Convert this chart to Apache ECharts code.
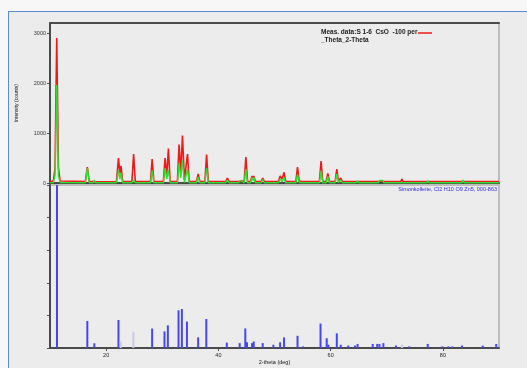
<!DOCTYPE html>
<html><head><meta charset="utf-8">
<script src="https://cdn.jsdelivr.net/npm/echarts@6/dist/echarts.min.js"></script>
<style>
html,body{margin:0;padding:0;background:#f7f7f7;overflow:hidden;}
#frame{position:absolute;left:8px;top:11px;width:560px;height:420px;border:1.5px solid #5a8ed4;background:#ececec;}
#chart{position:absolute;left:0;top:0;width:527px;height:368px;}
</style></head><body>
<div id="frame"></div><div id="chart"></div>
<script>
// Measured pattern (2-theta, counts)
var twoTheta = [10.0,10.6,10.9,11.2,11.5,11.8,16.3,16.65,17.0,17.7,17.9,18.1,21.85,22.2,22.45,22.65,22.95,24.6,24.9,25.2,27.9,28.2,28.5,30.2,30.5,30.8,31.1,31.4,32.7,33.0,33.3,33.6,33.95,34.2,34.5,34.8,36.1,36.4,36.7,37.6,37.9,38.2,41.3,41.6,41.9,43.6,43.85,44.1,44.6,44.9,45.2,45.7,46.0,46.15,46.3,46.6,47.6,47.9,48.2,49.6,49.8,50.0,50.7,51.0,51.35,51.7,52.0,53.8,54.1,54.4,54.7,55.0,58.0,58.3,58.6,59.2,59.5,59.8,60.8,61.1,61.4,61.8,62.1,63.0,63.2,63.4,64.6,64.8,65.0,67.3,67.5,67.7,68.5,68.7,69.0,69.3,69.5,71.6,71.8,72.0,72.5,72.7,72.9,77.1,77.3,77.5,83.4,83.6,83.8,89.4,89.6,89.8,90.0];
var measRed = [30,40,300,2900,300,40,30,320,30,30,20,25,30,500,200,340,30,30,580,30,30,480,30,30,500,150,690,30,30,770,200,950,60,60,580,30,30,180,30,30,570,30,30,100,30,30,70,40,35,520,35,30,140,90,140,30,30,100,30,30,50,30,30,140,80,210,30,30,320,40,70,30,30,440,30,30,190,30,30,280,40,100,30,30,60,30,30,70,30,30,50,30,30,70,40,70,30,30,50,30,30,80,30,30,70,30,30,70,30,30,50,30,30];
var measGreen = [5,8,150,1960,150,8,5,300,5,5,60,5,5,260,80,200,5,5,60,5,5,250,5,5,300,80,260,5,5,400,100,450,10,10,280,5,5,120,5,5,300,5,5,60,5,5,50,10,5,280,5,5,110,50,110,5,5,70,5,5,30,5,5,80,30,110,5,5,170,10,40,5,5,250,5,5,130,5,5,180,10,60,5,5,40,5,5,50,5,5,40,5,5,50,20,50,5,5,30,5,5,40,5,5,50,5,5,60,5,5,40,5,5];
// Reference pattern sticks (2-theta, relative intensity)
var stickPos = [11.25,16.65,17.9,22.2,28.2,30.4,31.0,32.9,33.5,34.4,36.4,37.85,41.5,43.8,44.8,45.1,46.0,46.3,47.9,49.8,51.0,51.7,54.1,55.1,58.2,59.3,59.6,61.1,61.8,63.15,64.35,64.8,67.5,68.3,68.7,69.4,71.65,74.0,77.3,79.9,81.0,81.7,83.4,87.1,89.5];
var stickHeight = [100,16.6,2.9,17.2,11.9,10.2,13.9,23.1,23.9,16.2,6.5,17.8,3.3,3,12,3.5,3,4,3,2,3.5,6.5,7.5,1,15,6,2,9,2,1.5,1.5,2.5,2.5,2.5,2.5,3,1.5,1,2.5,1,1,1,1.5,1.5,2.5];
var weakStickPos = [22.6,24.85,72.7];
var weakStickHeight = [3.9,10,2];
var xTicks = [20,40,60,80];
var yTicksTop = [0,1000,2000,3000];

function zip(a,b){var r=[];for(var i=0;i<a.length;i++)r.push([a[i],b[i]]);return r;}
function plain(v){return String(v);}

var chart = echarts.init(document.getElementById('chart'));
var fnt = '"Liberation Sans", Arial, sans-serif';
var dark = '#4a4a4a';
chart.setOption({
  animation:false,
  backgroundColor:'transparent',
  textStyle:{fontFamily:fnt},
  grid:[
    {left:50,top:23,width:449,height:160,show:true,borderColor:'#bdbdbd',borderWidth:2,backgroundColor:'transparent'},
    {left:50,top:185,width:449,height:163,show:true,borderColor:'#bdbdbd',borderWidth:2,backgroundColor:'transparent'}
  ],
  xAxis:[
    {type:'value',gridIndex:0,min:10,max:90,axisLine:{lineStyle:{color:dark,width:2}},axisTick:{show:false},axisLabel:{show:false},splitLine:{show:false}},
    {type:'value',gridIndex:0,position:'top',min:10,max:90,axisLine:{lineStyle:{color:dark,width:2}},axisTick:{show:false},axisLabel:{show:false},splitLine:{show:false}},
    {type:'value',gridIndex:1,min:10,max:90,name:'2-theta (deg)',nameLocation:'middle',nameGap:11,
      nameTextStyle:{fontSize:5.5,color:'#111',fontFamily:fnt},
      axisLine:{lineStyle:{color:dark,width:2}},
      axisTick:{length:3,lineStyle:{color:dark},customValues:xTicks},
      axisLabel:{fontSize:5.5,color:'#222',margin:4,customValues:xTicks,formatter:plain},
      splitLine:{show:false}}
  ],
  yAxis:[
    {type:'value',gridIndex:0,min:0,max:3200,name:'Intensity (counts)',nameLocation:'middle',nameGap:31,nameRotate:90,
      nameTextStyle:{fontSize:5,color:'#111',fontFamily:fnt},
      axisLine:{lineStyle:{color:dark,width:2}},
      axisTick:{length:3,lineStyle:{color:dark},customValues:yTicksTop},
      axisLabel:{fontSize:5.5,color:'#333',margin:4,customValues:yTicksTop,formatter:plain},
      splitLine:{show:false}},
    {type:'value',gridIndex:1,min:0,max:100,interval:20,
      axisLine:{lineStyle:{color:dark,width:2}},
      axisTick:{length:3,lineStyle:{color:dark}},
      axisLabel:{show:false},splitLine:{show:false}}
  ],
  series:[
    {type:'line',xAxisIndex:0,yAxisIndex:0,data:zip(twoTheta,measRed),symbol:'none',
      lineStyle:{color:'#ee1a1a',width:1.6},z:3},
    {type:'line',xAxisIndex:0,yAxisIndex:0,data:zip(twoTheta,measGreen),symbol:'none',
      lineStyle:{color:'#2ee02e',width:1.4},z:4},
    {type:'bar',xAxisIndex:2,yAxisIndex:1,data:zip(stickPos,stickHeight),barWidth:2,
      itemStyle:{color:'#4646ee'}},
    {type:'bar',xAxisIndex:2,yAxisIndex:1,data:zip(weakStickPos,weakStickHeight),barWidth:2,barGap:'-100%',
      itemStyle:{color:'#c9c9f0'}}
  ],
  graphic:[
    {type:'text',left:321,top:29,style:{text:'Meas. data:S 1-6  CsO  -100 per',fontSize:6.5,fontWeight:'bold',fill:'#222',fontFamily:fnt}},
    {type:'line',shape:{x1:418,y1:33,x2:432,y2:33},style:{stroke:'#ee1a1a',lineWidth:1.5}},
    {type:'text',left:321,top:37,style:{text:'_Theta_2-Theta',fontSize:6.5,fontWeight:'bold',fill:'#222',fontFamily:fnt}},
    {type:'text',right:30,top:186,style:{text:'Simonkolleite, Cl2 H10 O9 Zn5, 000-863',fontSize:5.5,fill:'#2a2ae8',fontFamily:fnt}}
  ]
});
</script></body></html>
